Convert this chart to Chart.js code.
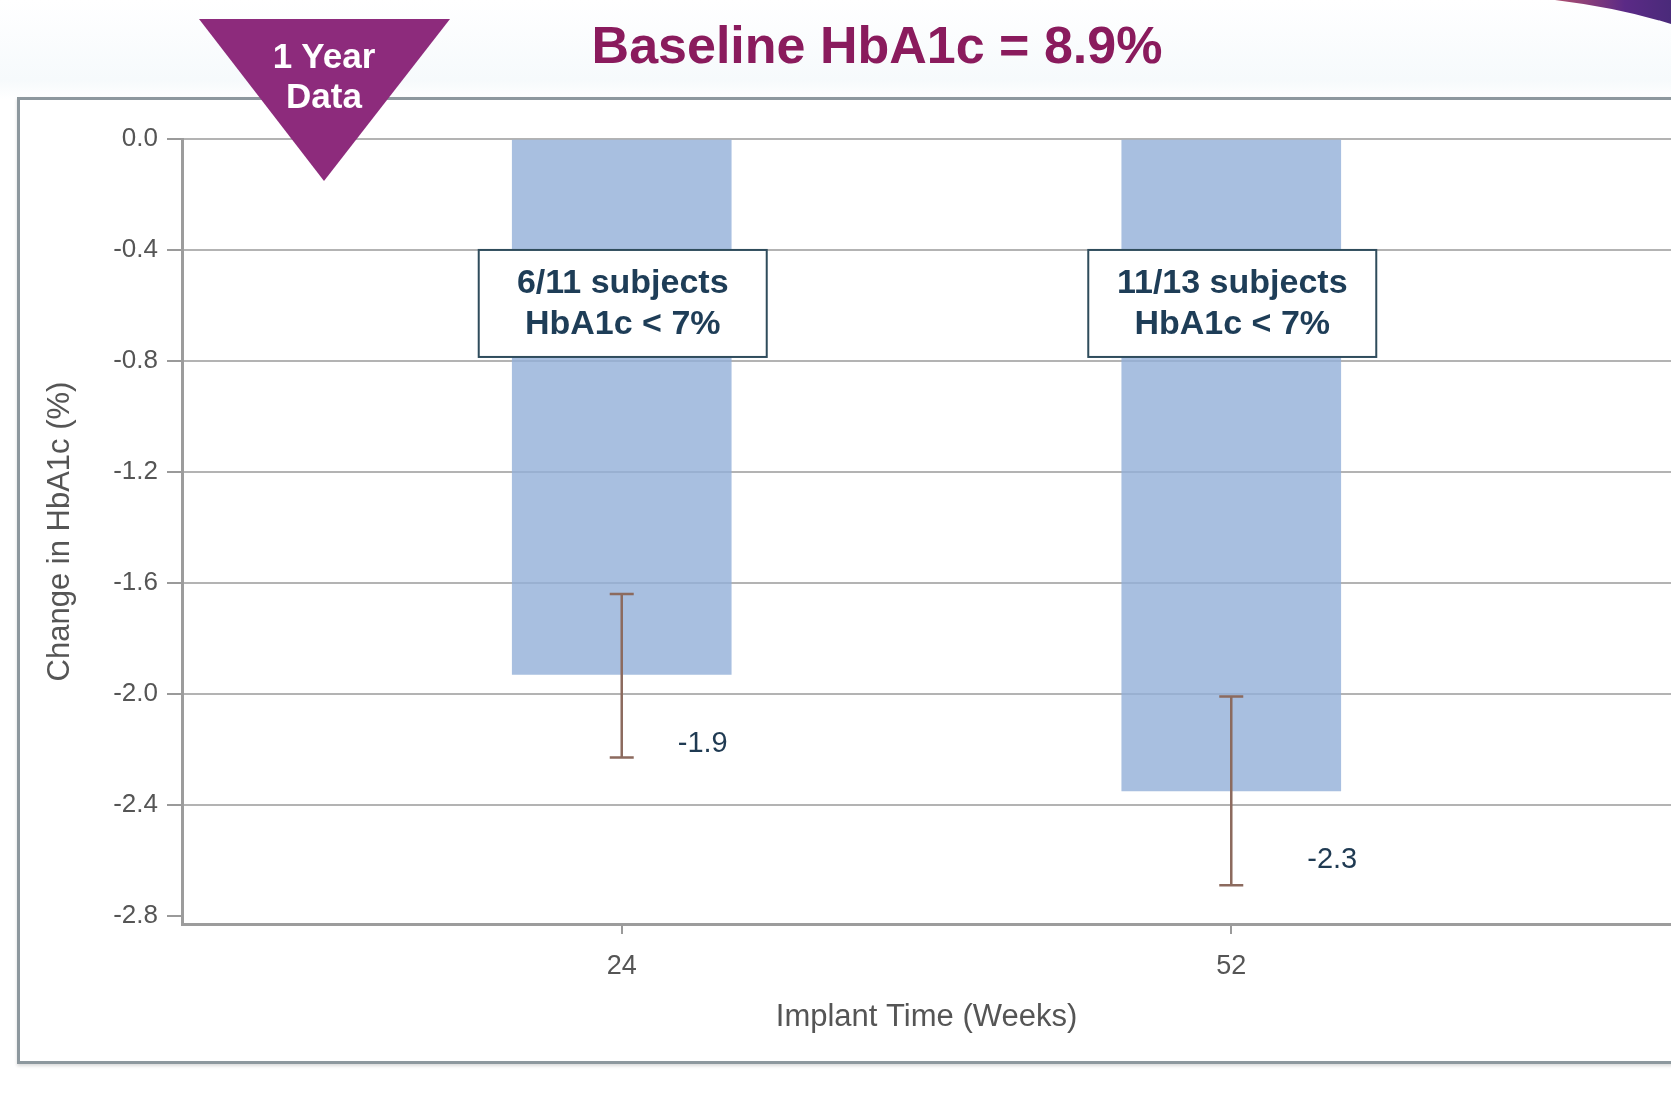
<!DOCTYPE html>
<html>
<head>
<meta charset="utf-8">
<script src="https://cdn.jsdelivr.net/npm/chart.js@4.4.1/dist/chart.umd.min.js"></script>
<style>
  html, body { margin: 0; padding: 0; background: #fff; }
  #wrap { position: relative; width: 1671px; height: 1099px; overflow: hidden;
    background: linear-gradient(#ffffff 0px, #f6fafc 80px, #ffffff 99px); }
  #frame { position: absolute; left: 17px; top: 97px; width: 1700px; height: 961px;
    border: 3px solid #8d989e; box-shadow: 0 2px 3px rgba(0,0,0,0.15); background: #fff; }
  #chart { position: absolute; left: 0; top: 0; }
  #title { position: absolute; left: 477px; width: 800px; top: 19px; text-align: center;
    font: bold 52px "Liberation Sans", Arial, sans-serif; line-height: 52px; color: #8a1b5d; }
  #badge { position: absolute; left: 0; top: 0; }
</style>
</head>
<body>
<div id="wrap">
  <div id="frame"></div>
  <canvas id="chart" width="1671" height="1099"></canvas>
  <div id="title">Baseline HbA1c = 8.9%</div>
  <svg id="badge" width="1671" height="200">
    <defs>
      <linearGradient id="corner" x1="0" y1="0" x2="1" y2="0">
        <stop offset="0" stop-color="#b0506e"/>
        <stop offset="0.6" stop-color="#5b2a86"/>
        <stop offset="1" stop-color="#4a2a7a"/>
      </linearGradient>
    </defs>
    <path d="M1555,0 L1671,0 L1671,24 Q1620,8 1555,0 Z" fill="url(#corner)"/>
    <polygon points="199,19 450,19 324,181" fill="#8d2b7c"/>
    <text x="324" y="68" text-anchor="middle" font-family="Liberation Sans, Arial, sans-serif"
      font-weight="bold" font-size="35" fill="#ffffff">1 Year</text>
    <text x="324" y="108" text-anchor="middle" font-family="Liberation Sans, Arial, sans-serif"
      font-weight="bold" font-size="35" fill="#ffffff">Data</text>
  </svg>
</div>
<script>
// implant time (weeks) and mean change in HbA1c
const weeks = [24, 52];
const meanChange = [-1.93, -2.35];
const errUpper = [-1.64, -2.01];
const errLower = [-2.23, -2.69];
const valueLabels = ['-1.9', '-2.3'];
const boxLines = [
  ['6/11 subjects', 'HbA1c < 7%'],
  ['11/13 subjects', 'HbA1c < 7%']
];
const yTicks = [0, -0.4, -0.8, -1.2, -1.6, -2.0, -2.4, -2.8];
const xTicks = [24, 52];

const FONT = '"Liberation Sans", Arial, sans-serif';

const overlayPlugin = {
  id: 'overlay',
  afterDatasetsDraw(chart) {
    const { ctx, scales: { x, y } } = chart;
    ctx.save();
    // error bars
    ctx.strokeStyle = '#8c6a5e';
    ctx.lineWidth = 2.5;
    weeks.forEach((w, i) => {
      const px = x.getPixelForValue(w);
      const top = y.getPixelForValue(errUpper[i]);
      const bot = y.getPixelForValue(errLower[i]);
      ctx.beginPath();
      ctx.moveTo(px, top); ctx.lineTo(px, bot);
      ctx.moveTo(px - 12, top); ctx.lineTo(px + 12, top);
      ctx.moveTo(px - 12, bot); ctx.lineTo(px + 12, bot);
      ctx.stroke();
    });
    // value labels
    const labelDx = [56, 76];
    ctx.fillStyle = '#1f3a52';
    ctx.font = '29px ' + FONT;
    ctx.textAlign = 'left';
    ctx.textBaseline = 'middle';
    weeks.forEach((w, i) => {
      ctx.fillText(valueLabels[i], x.getPixelForValue(w) + labelDx[i],
        y.getPixelForValue(meanChange[i] - 0.25));
    });
    // annotation boxes
    weeks.forEach((w, i) => {
      const cx = x.getPixelForValue(w) + 1;
      const top = y.getPixelForValue(-0.4);
      const bw = 288, bh = 107;
      ctx.fillStyle = '#ffffff';
      ctx.fillRect(cx - bw / 2, top, bw, bh);
      ctx.strokeStyle = '#2f4c5c';
      ctx.lineWidth = 2;
      ctx.strokeRect(cx - bw / 2, top, bw, bh);
      ctx.fillStyle = '#1e3d57';
      ctx.font = 'bold 34px ' + FONT;
      ctx.textAlign = 'center';
      ctx.fillText(boxLines[i][0], cx, top + 34);
      ctx.fillText(boxLines[i][1], cx, top + 75);
    });
    ctx.restore();
  }
};

new Chart(document.getElementById('chart'), {
  type: 'bar',
  data: {
    datasets: [{
      data: weeks.map((w, i) => ({ x: w, y: meanChange[i] })),
      backgroundColor: 'rgba(146,175,216,0.8)',
      borderWidth: 0,
      barThickness: 219
    }]
  },
  options: {
    responsive: false,
    animation: false,
    layout: { padding: { left: 0, top: 139, right: 0, bottom: 0 } },
    plugins: { legend: { display: false }, tooltip: { enabled: false } },
    scales: {
      x: {
        type: 'linear',
        min: 3.8,
        max: 72.2,
        offset: false,
        afterFit: s => { s.height = 175; },
        afterBuildTicks: s => { s.ticks = xTicks.map(v => ({ value: v })); },
        grid: { offset: false, drawOnChartArea: false, drawTicks: true, tickLength: 10, tickColor: '#9a9a9a', lineWidth: 2 },
        border: { display: true, color: '#9c9c9c', width: 3 },
        ticks: { color: '#555', font: { family: FONT, size: 27 }, padding: 16, callback: v => String(v) },
        title: { display: true, text: 'Implant Time (Weeks)', color: '#555',
          font: { family: FONT, size: 31 }, padding: { top: 0, bottom: 63 } }
      },
      y: {
        min: -2.83,
        max: 0,
        afterFit: s => { s.width = 182; },
        afterBuildTicks: s => { s.ticks = yTicks.map(v => ({ value: v })); },
        grid: {
          color: c => (c.tick && c.tick.value === -2.8 ? 'rgba(0,0,0,0)' : '#b3b3b3'),
          tickColor: '#9a9a9a',
          lineWidth: 2,
          tickLength: 15
        },
        border: { display: true, color: '#9c9c9c', width: 3 },
        ticks: { color: '#555', font: { family: FONT, size: 26 }, padding: 9,
          callback: v => Number(v).toFixed(1) },
        title: { display: true, text: 'Change in HbA1c (%)', color: '#555',
          font: { family: FONT, size: 31 }, padding: { top: 42, bottom: 0 } }
      }
    }
  },
  plugins: [overlayPlugin]
});
</script>
</body>
</html>
